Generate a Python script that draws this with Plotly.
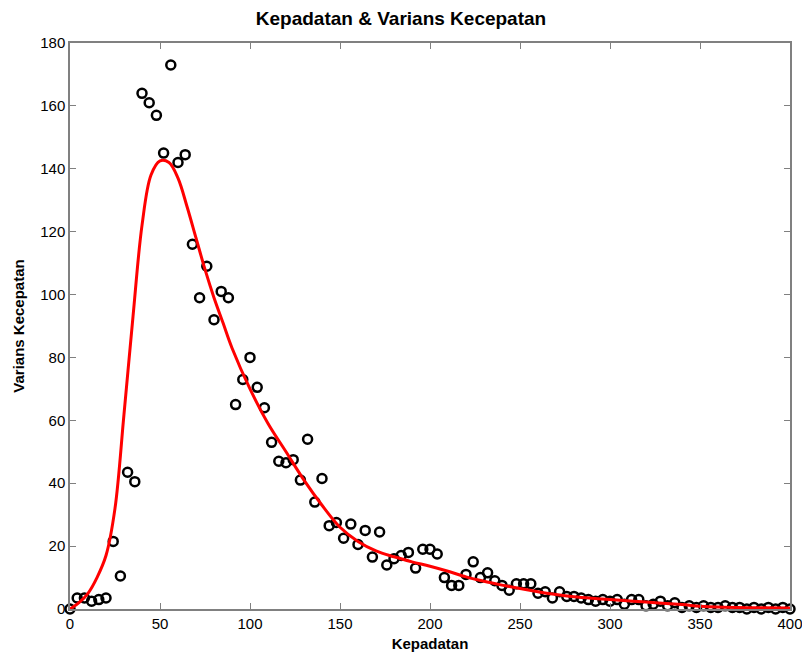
import plotly.graph_objects as go

kepadatan = list(range(0, 401, 4))
varians = [0, 3.5, 3.5, 2.5, 3, 3.5, 21.5, 10.5, 43.5, 40.5,
           164, 161, 157, 145, 173, 142, 144.5, 116, 99, 109,
           92, 101, 99, 65, 73, 80, 70.5, 64, 53, 47,
           46.5, 47.5, 41, 54, 34, 41.5, 26.5, 27.5, 22.5, 27,
           20.5, 25, 16.5, 24.5, 14, 16, 17, 18, 13, 19,
           19, 17.5, 10, 7.5, 7.5, 11, 15, 10, 11.5, 9,
           7.5, 6, 8, 8, 8, 5, 5.5, 3.5, 5.5, 4,
           4, 3.5, 3, 2.5, 3, 2.5, 3, 1.5, 3, 3,
           1, 1.5, 2.5, 1, 2, 0.5, 1, 0.5, 1, 0.5,
           0.5, 1, 0.5, 0.5, 0, 0.5, 0, 0.5, 0, 0.5, 0]

fit_x = [0, 5, 10, 15, 20, 25, 30, 35, 40, 45, 50, 55, 60, 65, 70, 75, 80, 85, 90,
         100, 110, 120, 130, 140, 150, 160, 170, 180, 190, 200, 210, 220, 230, 240,
         250, 260, 270, 280, 290, 300, 320, 340, 350, 360, 380, 400]
fit_y = [0, 2, 5, 10, 17, 32, 62, 93, 122, 138, 142.5, 142, 137, 128, 118, 108, 99, 91, 83,
         70, 59, 50, 41, 33, 26, 21.5, 18.5, 16.6, 15.0, 13.6, 12, 10.2, 8.8, 7.6,
         6.5, 5.5, 4.6, 3.9, 3.4, 3, 2.2, 1.4, 0.9, 0.6, 0.4, 0.3]

fig = go.Figure()
fig.add_trace(go.Scatter(x=kepadatan, y=varians, mode="markers", cliponaxis=False,
                         marker=dict(symbol="circle-open", size=9, color="black",
                                     line=dict(width=2.5, color="black")),
                         showlegend=False))
fig.add_trace(go.Scatter(x=fit_x, y=fit_y, mode="lines", line_shape="spline",
                         line=dict(color="red", width=3), showlegend=False))

axis_common = dict(showgrid=False, zeroline=False, showline=True, linecolor="#808080",
                   linewidth=1.5, mirror="ticks", ticks="inside", ticklen=6,
                   tickcolor="#808080", automargin=False, ticklabeloverflow="allow",
                   tickfont=dict(family="Liberation Sans, Arial", size=15, color="black"))
fig.update_xaxes(range=[0, 400], tickvals=list(range(0, 401, 50)),
                 title=dict(text="<b>Kepadatan</b>", font=dict(family="Liberation Sans, Arial", size=15, color="black"), standoff=8),
                 **axis_common)
fig.update_yaxes(range=[0, 180], tickvals=list(range(0, 181, 20)),
                 title=dict(text="<b>Varians Kecepatan</b>", font=dict(family="Liberation Sans, Arial", size=15, color="black"), standoff=12),
                 **axis_common)
fig.update_layout(width=802, height=655, margin=dict(l=70, r=12, t=43, b=46),
                  plot_bgcolor="white", paper_bgcolor="white",
                  title=dict(text="<b>Kepadatan & Varians Kecepatan</b>", x=0.5, xanchor="center",
                             y=0.972, yanchor="middle",
                             font=dict(family="Liberation Sans, Arial", size=19, color="black")))
fig.write_html("out.html")
